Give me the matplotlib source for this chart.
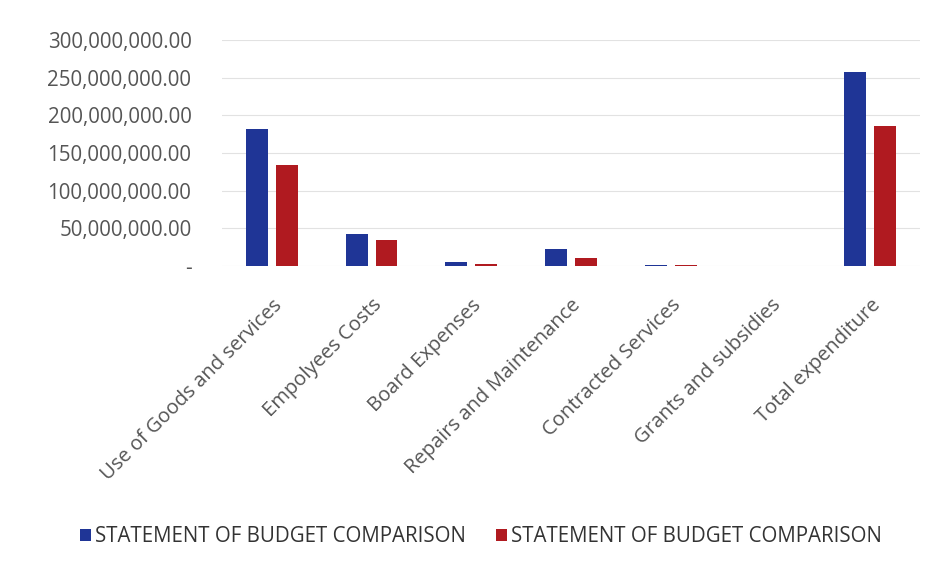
import matplotlib
matplotlib.use("Agg")
from matplotlib import pyplot as plt
from matplotlib.ticker import FuncFormatter
import numpy as np

categories = ["Use of Goods and services", "Empolyees Costs", "Board Expenses",
              "Repairs and Maintenance", "Contracted Services", "Grants and subsidies",
              "Total expenditure"]
budget = [181_700_000, 42_500_000, 5_000_000, 22_500_000, 1_000_000, 0, 257_000_000]
actual = [134_000_000, 34_500_000, 2_500_000, 10_600_000, 1_000_000, 0, 185_700_000]
series_names = ["STATEMENT OF BUDGET COMPARISON", "STATEMENT OF BUDGET COMPARISON"]

BLUE = "#1f3596"
RED = "#b01a20"

plt.rcParams["font.family"] = ["Open Sans", "DejaVu Sans"]

fig = plt.figure(figsize=(9.36, 5.64), dpi=100)
ax = fig.add_axes([222 / 936, 1 - 266 / 564, 698 / 936, (266 - 40) / 564])

x = np.arange(len(categories))
w = 0.22
ax.bar(x - 0.15, budget, w, color=BLUE, label=series_names[0])
ax.bar(x + 0.15, actual, w, color=RED, label=series_names[1])

ax.set_xlim(-0.5, len(categories) - 0.5)
ax.set_ylim(0, 300_000_000)
ax.set_yticks(np.arange(0, 300_000_001, 50_000_000))
ax.yaxis.set_major_formatter(FuncFormatter(lambda v, p: "-" if v == 0 else f"{v:,.2f}"))
ax.tick_params(axis="y", length=0, labelsize=14.8, labelcolor="#555555", pad=22)
ax.set_xticks(x)
ax.set_xticklabels(categories, rotation=45, ha="right", rotation_mode="anchor",
                   fontsize=14.5, color="#555555")
ax.tick_params(axis="x", length=0, pad=21)

ax.grid(axis="y", color="#e2e2e2", linewidth=0.8)
ax.set_axisbelow(True)
for s in ax.spines.values():
    s.set_visible(False)

fig.legend(loc="center", bbox_to_anchor=(481 / 936, 1 - 537 / 564), ncol=2, frameon=False,
           fontsize=14.8, handlelength=0.5, handleheight=0.5, handletextpad=0.2,
           columnspacing=1.5, labelcolor="#333333")

fig.savefig("out.png", dpi=100)
